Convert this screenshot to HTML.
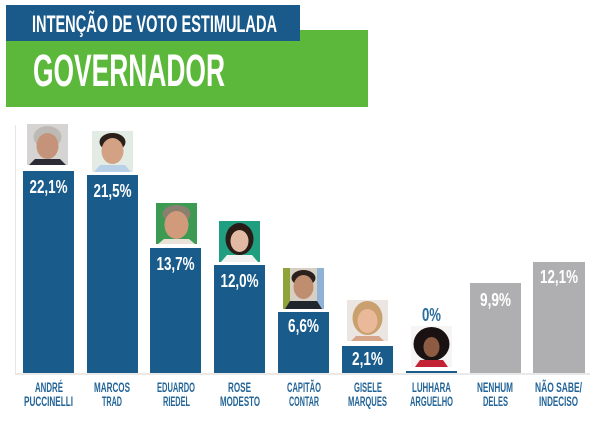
<!DOCTYPE html>
<html><head><meta charset="utf-8"><style>
html,body{margin:0;padding:0;background:#fff;}
svg{display:block;}
text{font-family:"Liberation Sans",sans-serif;font-weight:bold;}
</style></head><body>
<svg width="600" height="423" viewBox="0 0 600 423" xmlns="http://www.w3.org/2000/svg">
<defs><clipPath id="ph" clipPathUnits="userSpaceOnUse"><rect x="0" y="0" width="41" height="41"/></clipPath></defs>
<rect width="600" height="423" fill="#fff"/>
<!-- header -->
<rect x="6" y="30" width="362" height="77" fill="#5cb83b"/>
<rect x="6" y="5" width="294" height="36" fill="#1a5a8a"/>
<text x="32" y="32" font-size="24" fill="#fff" textLength="245" lengthAdjust="spacingAndGlyphs">INTENÇÃO DE VOTO ESTIMULADA</text>
<text x="33" y="86" font-size="45" fill="#fff" textLength="192" lengthAdjust="spacingAndGlyphs">GOVERNADOR</text>
<!-- axes -->
<line x1="15.5" y1="125" x2="15.5" y2="374" stroke="#e6e6e6" stroke-width="1"/>
<line x1="15" y1="374" x2="590" y2="374" stroke="#e2e2e2" stroke-width="1.5"/>
<!-- bars -->
<g fill="#195b8b">
<rect x="23" y="171" width="51" height="202"/>
<rect x="87" y="175" width="51" height="198"/>
<rect x="150" y="248" width="51" height="125"/>
<rect x="214" y="265" width="51" height="108"/>
<rect x="278" y="312" width="51" height="61"/>
<rect x="342" y="346" width="51" height="27"/>
<rect x="406" y="371" width="51" height="2"/>
</g>
<g fill="#afafb1">
<rect x="470" y="283" width="51" height="90"/>
<rect x="533" y="262" width="52" height="111"/>
</g>
<!-- value labels -->
<g fill="#fff" font-size="18">
<text x="29.5" y="193" textLength="38" lengthAdjust="spacingAndGlyphs">22,1%</text>
<text x="93.5" y="197" textLength="38" lengthAdjust="spacingAndGlyphs">21,5%</text>
<text x="156.5" y="270" textLength="38" lengthAdjust="spacingAndGlyphs">13,7%</text>
<text x="220.5" y="287" textLength="38" lengthAdjust="spacingAndGlyphs">12,0%</text>
<text x="288" y="332" textLength="31" lengthAdjust="spacingAndGlyphs">6,6%</text>
<text x="352" y="365" textLength="31" lengthAdjust="spacingAndGlyphs">2,1%</text>
<text x="480" y="306" textLength="31" lengthAdjust="spacingAndGlyphs">9,9%</text>
<text x="540" y="283" textLength="38" lengthAdjust="spacingAndGlyphs">12,1%</text>
</g>
<text x="422" y="321" font-size="18" fill="#2a6e9f" textLength="19" lengthAdjust="spacingAndGlyphs">0%</text>
<!-- photos -->
<g transform="translate(27,124)" clip-path="url(#ph)">
<rect width="41" height="41" fill="#d6d4d3"/>
<ellipse cx="20.5" cy="13" rx="14" ry="11" fill="#bdb9b5"/>
<ellipse cx="20.5" cy="22" rx="11" ry="13" fill="#c5937a"/>
<polygon points="2,41 8,35 33,35 39,41" fill="#2b2c36"/>
</g>
<g transform="translate(92,131)" clip-path="url(#ph)">
<rect width="41" height="41" fill="#e3ece4"/>
<ellipse cx="20.5" cy="11" rx="13" ry="9" fill="#2b1f1a"/>
<ellipse cx="20.5" cy="20" rx="11" ry="13" fill="#d3a183"/>
<polygon points="2,41 8,34 33,34 39,41" fill="#b9d1e6"/>
</g>
<g transform="translate(156,203)" clip-path="url(#ph)">
<rect width="41" height="41" fill="#3c9a52"/>
<ellipse cx="20.5" cy="11" rx="14" ry="9" fill="#8b7f70"/>
<ellipse cx="20.5" cy="22" rx="12" ry="14" fill="#d19b7b"/>
<polygon points="2,41 8,36 33,36 39,41" fill="#e8e2d8"/>
</g>
<g transform="translate(219,221)" clip-path="url(#ph)">
<rect width="41" height="41" fill="#1f9f80"/>
<ellipse cx="20.5" cy="18" rx="14" ry="16" fill="#2a1b16"/>
<ellipse cx="20.5" cy="20" rx="9" ry="11" fill="#e2b9a2"/>
<polygon points="2,41 8,34 33,34 39,41" fill="#f1f1f1"/>
</g>
<g transform="translate(283,268)" clip-path="url(#ph)">
<rect width="41" height="41" fill="#d8cfc4"/>
<rect x="0" y="0" width="7" height="41" fill="#8ea43a"/>
<rect x="34" y="0" width="7" height="41" fill="#8fb3d6"/>
<ellipse cx="20.5" cy="10" rx="12" ry="8" fill="#2a211c"/>
<ellipse cx="20.5" cy="19" rx="10" ry="12" fill="#bf8e70"/>
<polygon points="2,41 7,33 34,33 39,41" fill="#20262e"/>
</g>
<g transform="translate(347,300)" clip-path="url(#ph)">
<rect width="41" height="41" fill="#ece6e2"/>
<ellipse cx="20.5" cy="18" rx="15" ry="17" fill="#c9a06e"/>
<ellipse cx="20.5" cy="21" rx="10" ry="12" fill="#e9b99a"/>
<polygon points="4,41 9,36 32,36 37,41" fill="#d6a68a"/>
</g>
<g transform="translate(411,326)" clip-path="url(#ph)">
<rect width="41" height="41" fill="#f6f4f4"/>
<ellipse cx="20.5" cy="18" rx="18" ry="17" fill="#1a1212"/>
<ellipse cx="20.5" cy="21" rx="8" ry="10" fill="#8c5b42"/>
<polygon points="4,41 9,34 32,34 37,41" fill="#c22234"/>
</g>
<!-- category labels -->
<g fill="#246598" font-size="13.5">
<text x="35" y="392" textLength="28" lengthAdjust="spacingAndGlyphs">ANDRÉ</text>
<text x="24" y="406" textLength="49" lengthAdjust="spacingAndGlyphs">PUCCINELLI</text>
<text x="94" y="392" textLength="36" lengthAdjust="spacingAndGlyphs">MARCOS</text>
<text x="102" y="406" textLength="20" lengthAdjust="spacingAndGlyphs">TRAD</text>
<text x="157" y="392" textLength="38" lengthAdjust="spacingAndGlyphs">EDUARDO</text>
<text x="163" y="406" textLength="27" lengthAdjust="spacingAndGlyphs">RIEDEL</text>
<text x="228" y="392" textLength="23" lengthAdjust="spacingAndGlyphs">ROSE</text>
<text x="220" y="406" textLength="40" lengthAdjust="spacingAndGlyphs">MODESTO</text>
<text x="287" y="392" textLength="34" lengthAdjust="spacingAndGlyphs">CAPITÃO</text>
<text x="289" y="406" textLength="30" lengthAdjust="spacingAndGlyphs">CONTAR</text>
<text x="354" y="392" textLength="28" lengthAdjust="spacingAndGlyphs">GISELE</text>
<text x="348" y="406" textLength="39" lengthAdjust="spacingAndGlyphs">MARQUES</text>
<text x="412" y="392" textLength="39" lengthAdjust="spacingAndGlyphs">LUHHARA</text>
<text x="410" y="406" textLength="43" lengthAdjust="spacingAndGlyphs">ARGUELHO</text>
<text x="477" y="392" textLength="36" lengthAdjust="spacingAndGlyphs">NENHUM</text>
<text x="483" y="406" textLength="25" lengthAdjust="spacingAndGlyphs">DELES</text>
<text x="535" y="392" textLength="47" lengthAdjust="spacingAndGlyphs">NÃO SABE/</text>
<text x="539" y="406" textLength="39" lengthAdjust="spacingAndGlyphs">INDECISO</text>
</g>
</svg>
</body></html>
